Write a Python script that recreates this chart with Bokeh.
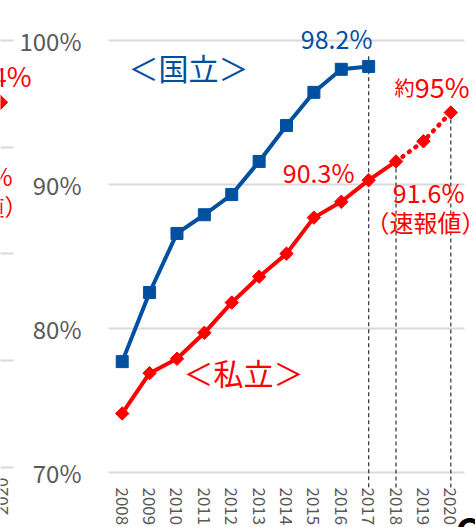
import math
from bokeh.plotting import figure
from bokeh.models import Range1d, FixedTicker, Label
from bokeh.embed import file_html
from bokeh.resources import INLINE

# ---- data ----
years_national = [2008, 2009, 2010, 2011, 2012, 2013, 2014, 2015, 2016, 2017]
rate_national = [77.7, 82.5, 86.6, 87.9, 89.3, 91.6, 94.1, 96.4, 98.0, 98.2]

years_private = [2008, 2009, 2010, 2011, 2012, 2013, 2014, 2015, 2016, 2017, 2018]
rate_private = [74.1, 76.9, 77.9, 79.7, 81.8, 83.6, 85.2, 87.7, 88.8, 90.3, 91.6]

years_forecast = [2018, 2019, 2020]
rate_forecast = [91.6, 93.0, 95.0]

x_ticks = [2008, 2009, 2010, 2011, 2012, 2013, 2014, 2015, 2016, 2017, 2018, 2019, 2020]
x_tick_labels = ["2008", "2009", "2010", "2011", "2012", "2013", "2014",
                 "2015", "2016", "2017", "2018", "2019", "2020"]
y_ticks = [70, 80, 90, 100]
y_tick_labels = ["70%", "80%", "90%", "100%"]

# dashed guides from the marked points down through the year labels
guide_years = [2017, 2018, 2020]
guide_tops = [98.9, 91.6, 95.0]

# fragments of the neighbouring chart, cut off at the left edge
neighbour_grid = [100.0, 92.57, 85.21, 77.78, 70.35]
neighbour_marker_x = [2003.56]
neighbour_marker_y = [95.7]

BLUE = "#0050A0"
RED = "#FF0000"
GRAY = "#595959"
GRID = "#D9D9D9"
FONT = "Noto Sans CJK JP"

X0, X1 = 2007.5, 2020.5   # plot area in data units

p = figure(width=475, height=527, output_backend="svg", toolbar_location=None,
           x_range=Range1d(2003.5555, 2020.9017), y_range=Range1d(66.181, 102.778),
           min_border_left=0, min_border_right=0, min_border_top=0,
           min_border_bottom=0)
p.outline_line_color = None
p.background_fill_color = "white"
p.border_fill_color = "white"
p.xgrid.visible = False
p.ygrid.visible = False

# x axis (fixed at the 70% line)
p.xaxis.fixed_location = 70
p.xaxis.ticker = FixedTicker(ticks=x_ticks)
p.xaxis.major_label_overrides = {t: l for t, l in zip(x_ticks, x_tick_labels)}
p.xaxis.major_label_orientation = "vertical"
p.xaxis.major_label_text_font = FONT
p.xaxis.major_label_text_font_size = "17px"
p.xaxis.major_label_text_color = GRAY
p.xaxis.major_label_standoff = 15
p.xaxis.major_tick_in = 0
p.xaxis.major_tick_out = 0
p.xaxis.minor_tick_line_color = None
p.xaxis.axis_line_color = None

# y axis (fixed at the left edge of the plot area)
p.yaxis.fixed_location = X0
p.yaxis.ticker = FixedTicker(ticks=y_ticks)
p.yaxis.major_label_overrides = {t: l for t, l in zip(y_ticks, y_tick_labels)}
p.yaxis.major_label_text_font = FONT
p.yaxis.major_label_text_font_size = "24px"
p.yaxis.major_label_text_color = GRAY
p.yaxis.major_label_standoff = 27
p.yaxis.major_tick_in = 0
p.yaxis.major_tick_out = 0
p.yaxis.minor_tick_line_color = None
p.yaxis.axis_line_color = None

# horizontal gridlines at the y ticks
n = len(y_ticks)
p.segment(x0=[X0] * n, x1=[X1] * n, y0=y_ticks, y1=y_ticks,
          line_color=GRID, line_width=2)

# neighbouring chart's gridline stubs
m = len(neighbour_grid)
p.segment(x0=[2003.4] * m, x1=[2004.03] * m, y0=neighbour_grid, y1=neighbour_grid,
          line_color=GRID, line_width=2)

# dashed guides
k = len(guide_years)
p.segment(x0=guide_years, x1=guide_years, y0=guide_tops, y1=[68.8] * k,
          line_color="#404040", line_width=1.3, line_dash="4 3")

# series
p.line(years_national, rate_national, line_color=BLUE, line_width=4)
p.scatter(years_national, rate_national, marker="square", size=12,
          fill_color=BLUE, line_color=BLUE)

p.line(years_private, rate_private, line_color=RED, line_width=4)
p.line(years_forecast, rate_forecast, line_color=RED, line_width=4.5,
       line_dash="1 7", line_cap="round")
p.scatter(years_private + years_forecast[1:], rate_private + rate_forecast[1:],
          marker="square", angle=math.pi / 4, size=9.5,
          fill_color=RED, line_color=RED)
p.scatter(neighbour_marker_x, neighbour_marker_y, marker="square",
          angle=math.pi / 4, size=10, fill_color=RED, line_color=RED)


def lab(x, y, text, color, size, align="left", baseline="middle", style="normal",
        angle=0.0):
    p.add_layout(Label(x=x, y=y, text=text, text_color=color, text_font=FONT,
                       text_font_size=size, text_align=align,
                       text_baseline=baseline, text_font_style=style, angle=angle))


lab(2008.23, 98.19, "＜国立＞", BLUE, "30px")
lab(2015.83, 100.14, "98.2%", BLUE, "25px", align="center")
lab(2010.24, 77.01, "＜私立＞", RED, "30px")
lab(2016.48, 90.9, "90.3%", RED, "25px", align="right")
lab(2019.19, 89.51, "91.6%", RED, "25px", align="center")
lab(2019.08, 87.43, "（速報値）", RED, "24px", align="center")
lab(2018.31, 96.74, "約", RED, "20px", align="center")
lab(2018.68, 96.8, "95%", RED, "27px")

# texts of the neighbouring chart, cut off at the left
lab(2004.688, 97.57, "4%", RED, "27px", align="right")
lab(2003.994, 90.63, "%", RED, "24px", align="right")
lab(2004.541, 88.54, "値）", RED, "23px", align="right")
lab(2003.592, 69.65, "2020", GRAY, "17px", align="right", angle=math.pi / 2)

# cut-off letter at the bottom right
lab(2020.171, 67.85, "C", "#000000", "36px", baseline="top", style="bold")

open("out.html", "w").write(file_html(p, INLINE))
